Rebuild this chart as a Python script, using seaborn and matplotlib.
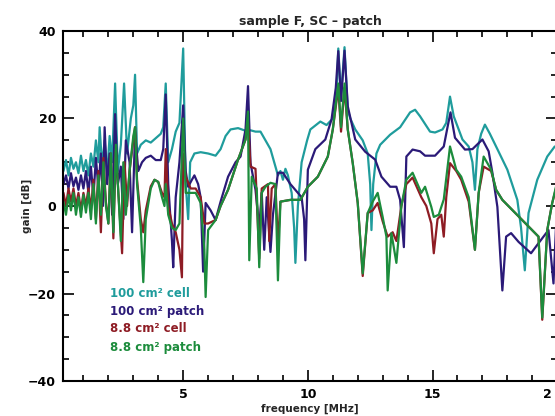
import numpy as np
import pandas as pd
import matplotlib
matplotlib.use("Agg")
import matplotlib.pyplot as plt
import matplotlib.transforms as mtransforms
import seaborn as sns
from matplotlib.ticker import MultipleLocator

# ---------------- data ----------------
teal_f = [0.2,0.3,0.4,0.5,0.6,0.7,0.8,0.9,1.0,1.1,1.2,1.3,1.4,1.5,1.6,1.65,1.75,1.85,1.95,2.05,2.15,2.27,2.38,2.5,
          2.63,2.75,2.9,3.0,3.07,3.15,3.3,3.5,3.7,3.9,4.1,4.2,4.3,4.4,4.55,4.7,4.85,5.0,5.1,5.2,
          5.28,5.45,5.7,6.0,6.3,6.5,6.7,6.9,7.2,7.5,7.7,7.9,8.1,8.3,8.5,8.7,8.8,8.9,9.0,9.1,
          9.2,9.35,9.45,9.5,9.6,9.75,9.97,10.1,10.5,10.75,11.0,11.15,11.22,11.33,11.47,11.6,11.7,11.9,12.2,12.4,
          12.5,12.55,12.62,12.75,12.9,13.3,13.7,14.1,14.3,14.5,14.9,15.1,15.4,15.55,15.7,15.85,16.2,16.45,16.6,16.7,
          16.8,16.95,17.1,17.3,17.6,18.0,18.4,18.55,18.7,18.85,19.2,19.6,19.9]
teal_g = [8,10.5,7,11,8.5,10,7.5,11.5,8,10.5,7,12,9,15,10,18,9,15,7,16,10,28,8,14,
          28,12,20,23,30,12,14,15,14.5,15.5,16.5,18,28,10,13,17,19,36,5,-3,
          10,12,12.3,12,11.5,13,16,17.5,17.8,17.2,17.3,17,17,15,13,9,7,8,6,8.5,
          7,3,-5,-13,0,10,15,17.5,19.3,18.5,20,26,36,25,36.3,22,20,17.5,15,12,
          5,-5.5,5,12,14,16.3,18,21.4,22,20.5,17,16.8,17.5,19,25,20.5,15.2,13.6,10,3.7,
          13,16.5,18.6,16.5,13,8.3,1.4,-5,-14.7,-1.6,6,11.3,13.6]

navy_f = [0.2,0.3,0.4,0.5,0.6,0.7,0.8,0.9,1.0,1.1,1.2,1.3,1.4,1.5,1.6,1.7,1.78,1.85,1.95,2.05,2.15,2.27,2.38,2.5,
          2.6,2.7,2.85,2.95,3.07,3.2,3.35,3.5,3.7,3.9,4.1,4.2,4.3,4.4,4.55,4.6,4.7,4.85,5.0,5.1,
          5.2,5.35,5.45,5.6,5.7,5.8,5.9,6.1,6.3,6.5,6.8,7.1,7.3,7.5,7.6,7.7,7.9,8.05,8.15,8.25,
          8.35,8.5,8.6,8.8,9.0,9.3,9.6,9.75,9.85,9.9,10.0,10.3,10.7,10.95,11.12,11.22,11.33,11.47,11.6,11.9,
          12.3,12.7,12.95,13.3,13.55,13.7,13.85,13.95,14.2,14.5,14.7,15.1,15.45,15.6,15.72,15.9,16.3,16.6,17.0,17.25,
          17.4,17.6,17.8,17.95,18.15,18.45,18.95,19.25,19.65,19.85,19.95]
navy_g = [5,7,4,7.5,4.5,6.5,3.7,7,4,8,3,9,2,11,4,12,0,18,5,12,-2,21,5,9,
          -3,15,10,-6,17,8,10,11,11.5,10.5,10.5,13,25.5,5,-8,-14,2,10,23,8,
          4.4,6,7,5,2,-15,0.7,-1,-3.2,1,6.7,10,11.3,17.5,27.4,9.8,3.7,-5,3,-10,
          2,-10.5,-2,7.6,7.6,5,3,2,-3,-12.4,8.3,13,15.2,19.8,27,35.4,24,35.5,22.8,15.2,
          12.4,10.6,6.7,4.4,4.4,1.4,-9.4,11.3,12.9,12.5,11.5,11.5,13.6,18,21.4,15.6,12.9,13,15.2,12.5,
          7.6,-0.2,-19.3,-7,-6.2,-8.2,-10.8,-8.5,-5.5,-17.7,-5]

red_f = [0.2,0.3,0.4,0.5,0.6,0.7,0.8,0.9,1.0,1.1,1.2,1.3,1.4,1.5,1.6,1.7,1.8,1.9,2.0,2.1,
         2.2,2.3,2.4,2.55,2.65,2.75,2.85,3.0,3.07,3.15,3.3,3.4,3.5,3.7,3.85,4.0,4.15,4.25,4.3,4.4,
         4.55,4.7,4.85,4.95,5.0,5.1,5.3,5.5,5.7,5.85,6.0,6.3,6.5,6.8,7.2,7.5,7.6,7.7,7.9,8.05,
         8.15,8.4,8.45,8.55,8.7,8.8,8.9,9.3,9.7,10.0,10.4,10.8,11.0,11.22,11.33,11.47,11.6,11.8,12.0,12.2,
         12.4,12.6,12.8,13.0,13.2,13.4,13.55,13.75,13.95,14.2,14.55,14.75,14.95,15.05,15.2,15.35,15.45,15.55,15.7,15.95,
         16.15,16.45,16.7,16.85,17.05,17.35,17.55,17.8,19.25,19.4,19.6,19.8,19.95]
red_g = [3,0,4,1,4,0,3,-1,3,0,4,-1,6,-3,8,-6,11,1,-4,12,
         -7.4,13,3,-10.8,10,0,8,15,18,6,-3,-6,-1,4.5,6,5.5,3,2,13,0,
         -4,-6,-10,-16.3,12,6.7,4,4,2,-4,-4,-3.2,0,3.7,10.6,15.2,19,9,8.5,-12,
         4,5,-8,4,5,-9,1,1.4,1.4,4.4,6.7,11.3,17.5,27,17,27,17.5,9.8,0.7,-16,
         -1.6,-1,0.7,-3.5,-7,-6,-8,0,5,6.5,2,0,-4,-10.8,-3,-2,-7,2,9.8,8,
         6,1,-10,3,9,8,3.7,1.4,-7,-26,-5.5,0.7,4]

green_f = [0.2,0.3,0.4,0.5,0.6,0.7,0.8,0.9,1.0,1.1,1.2,1.3,1.4,1.5,1.6,1.7,1.8,1.9,2.0,2.1,
           2.2,2.3,2.4,2.5,2.6,2.7,2.85,3.0,3.07,3.15,3.3,3.4,3.5,3.7,3.85,4.0,4.15,4.25,4.3,4.4,
           4.55,4.7,4.85,5.0,5.1,5.25,5.5,5.7,5.85,5.9,6.0,6.3,6.5,6.8,7.2,7.5,7.6,7.65,7.75,7.95,
           8.05,8.15,8.3,8.5,8.7,8.8,8.9,9.3,9.7,10.0,10.4,10.8,11.0,11.22,11.33,11.47,11.6,11.8,12.0,12.2,
           12.4,12.6,12.8,13.0,13.15,13.2,13.35,13.55,13.75,13.95,14.2,14.55,14.7,14.95,15.05,15.25,15.45,15.7,15.95,16.15,
           16.45,16.7,16.85,17.05,17.35,17.55,17.8,19.25,19.4,19.6,19.8,19.95]
green_g = [1,-2,2.5,-1,3,-2,2,-2.5,2.5,-1.5,3,-3,5,-4,7,-2,10,0,-4,12,
           -6,14,3,-8,10,-2,8,16,18,5,-5,-17.4,-3,4,6,5.5,2,0,5,-2,
           -5,-5.5,-4,20,3,3,3,0.7,-10,-20.8,-5.5,-3.2,0,3.7,10.6,15.2,21.6,-12.4,6.7,4,
           -14,3,4.4,5.3,5,-17,1,1.4,1.4,4.4,6.7,11.3,17.5,28,18,28,17.5,9.8,0.7,-15.4,
           -1.6,1,3,-2.5,-7,-19.3,-6.2,-13,0,6,7.6,3,4.4,-0.2,-2.5,-2,1.5,13.6,8.3,6.7,
           2,-10,3,11.3,8.3,3.7,1.4,-7,-25.5,-5.5,0.7,4.4]

series_names = ["100 cm² cell", "100 cm² patch", "8.8 cm² cell", "8.8 cm² patch"]
colors = ["#1f9c9c", "#2b1a78", "#8e1c24", "#1c8c3c"]

frames = []
for name, f, g in zip(series_names, [teal_f, navy_f, red_f, green_f], [teal_g, navy_g, red_g, green_g]):
    frames.append(pd.DataFrame({"freq": f, "gain": g, "series": name}))
df = pd.concat(frames, ignore_index=True)

# ---------------- plot ----------------
sns.set_theme(style="ticks")
plt.rcParams["font.family"] = ["DejaVu Sans"]

fig = plt.figure(figsize=(5.55, 4.16), dpi=100)
ax = fig.add_axes([0.1135, 0.0841, 0.8905, 0.8414])

sns.lineplot(data=df, x="freq", y="gain", hue="series", hue_order=series_names,
             palette=colors, estimator=None, sort=False, linewidth=1.6, legend=False, ax=ax)

ax.set_xlim(0.18, 20.0)
ax.set_ylim(-40, 40)
ax.xaxis.set_major_locator(MultipleLocator(5))
ax.xaxis.set_minor_locator(MultipleLocator(1))
ax.yaxis.set_major_locator(MultipleLocator(20))
ax.yaxis.set_minor_locator(MultipleLocator(5))
ax.set_xticks([5, 10, 15, 20])
ax.set_xticklabels(["5", "10", "15", "2"])
ax.tick_params(which="both", direction="in", top=True, right=True, width=1.2, colors="black")
ax.tick_params(which="major", length=8, labelsize=9, pad=5)
ax.tick_params(which="minor", length=4)
for lab in ax.get_xticklabels() + ax.get_yticklabels():
    lab.set_fontweight("bold")
last = ax.get_xticklabels()[-1]
last.set_horizontalalignment("right")
last.set_transform(last.get_transform() +
                   mtransforms.ScaledTranslation(-4 / 72, 0, fig.dpi_scale_trans))
for s in ax.spines.values():
    s.set_linewidth(1.5)
    s.set_color("black")

ax.set_title("sample F, SC – patch", fontsize=9, fontweight="bold", pad=4)
ax.set_xlabel("frequency [MHz]", fontsize=7.5, fontweight="bold", labelpad=2)
ax.set_ylabel("gain [dB]", fontsize=7.5, fontweight="bold")
ax.yaxis.set_label_coords(-0.063, 0.5)

ys = [0.251, 0.200, 0.149, 0.097]
for name, c, yy in zip(series_names, colors, ys):
    ax.text(0.095, yy, name, color=c, transform=ax.transAxes, fontsize=8.5,
            fontweight="bold", va="center", ha="left")

fig.savefig("out.png", dpi=100)
